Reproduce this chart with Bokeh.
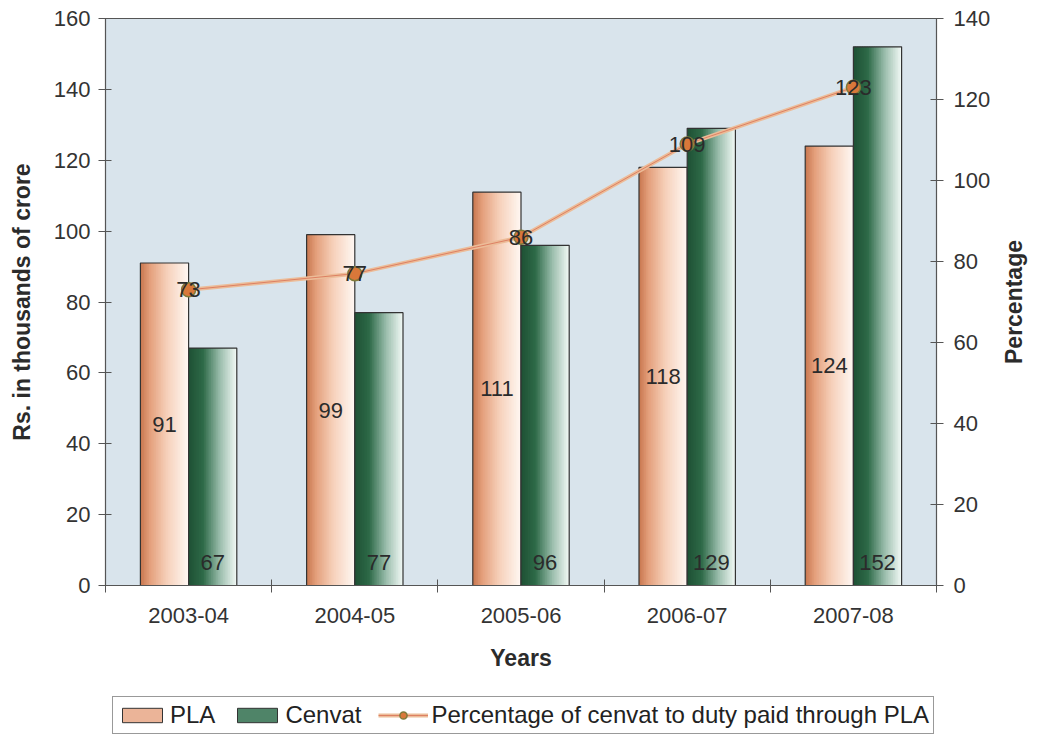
import math
import numpy as np
from bokeh.plotting import figure
from bokeh.layouts import column, row
from bokeh.models import (ColumnDataSource, Range1d, LinearAxis, FixedTicker,
                          Legend, LegendItem)
from bokeh.embed import file_html
from bokeh.resources import INLINE
from bokeh.core.properties import value

# ---------------- data ----------------
years = ["2003-04", "2004-05", "2005-06", "2006-07", "2007-08"]
pla = [91, 99, 111, 118, 124]
cenvat = [67, 77, 96, 129, 152]
pct = [73, 77, 86, 109, 123]
left_ticks = [0, 20, 40, 60, 80, 100, 120, 140, 160]
right_ticks = [0, 20, 40, 60, 80, 100, 120, 140]

FONT = "Liberation Sans"
BAR_W = 0.29
N_STRIPS = 28
NAN = float("nan")

PLA_STOPS = [(0.0, "#c8764e"), (0.2, "#e4a07c"), (0.55, "#f6d0ba"), (1.0, "#fff8f3")]
CEN_STOPS = [(0.0, "#1e5034"), (0.3, "#2e6a48"), (0.65, "#9abdac"), (1.0, "#f3f9f6")]
PLA_MID = "#ebb498"
CEN_MID = "#4f8468"
LINE_OUTER = "#ecbc98"
LINE_INNER = "#d4583f"
MK_FILL = "#d9783a"
MK_LINE = "#807a3a"


def hex2rgb(h):
    h = h.lstrip("#")
    return np.array([int(h[i:i + 2], 16) for i in (0, 2, 4)], dtype=float)


def interp(stops, t):
    for (t0, c0), (t1, c1) in zip(stops[:-1], stops[1:]):
        if t0 <= t <= t1:
            f = (t - t0) / (t1 - t0) if t1 > t0 else 0
            c = hex2rgb(c0) * (1 - f) + hex2rgb(c1) * f
            return "#%02x%02x%02x" % tuple(int(round(v)) for v in c)
    return stops[-1][1]


centers = [i + 0.5 for i in range(len(years))]

p = figure(frame_width=831, frame_height=567,
           x_range=Range1d(0, len(years)), y_range=Range1d(0, 160),
           output_backend="svg", toolbar_location=None,
           background_fill_color="#d9e4ec", border_fill_color="white",
           min_border_left=105, min_border_right=0, min_border_top=18,
           min_border_bottom=105, outline_line_color="#555555")
p.xgrid.visible = False
p.ygrid.visible = False
p.extra_y_ranges = {"pct": Range1d(0, 140)}


def bar_set(xs_left, vals, stops):
    L, R, B, T, C = [], [], [], [], []
    for x0, v in zip(xs_left, vals):
        for k in range(N_STRIPS):
            t = (k + 0.5) / N_STRIPS
            L.append(x0 + BAR_W * k / N_STRIPS)
            R.append(min(x0 + BAR_W * (k + 1) / N_STRIPS + 0.006, x0 + BAR_W))
            B.append(0)
            T.append(v)
            C.append(interp(stops, t))
    src = ColumnDataSource(dict(left=L, right=R, bottom=B, top=T, color=C))
    p.quad(left="left", right="right", bottom="bottom", top="top", source=src,
           fill_color="color", line_color=None)
    p.quad(left=xs_left, right=[x + BAR_W for x in xs_left], bottom=0, top=vals,
           fill_alpha=0, line_color="#333333", line_width=1.2)


bar_set([c - BAR_W for c in centers], pla, PLA_STOPS)
bar_set(centers, cenvat, CEN_STOPS)

# bar value labels
p.text(x=[c - BAR_W / 2 for c in centers], y=[v / 2 for v in pla], text=[str(v) for v in pla],
       text_font=value(FONT), text_font_size="22px", text_color="#2b2b2b",
       text_align="center", text_baseline="middle")
p.text(x=[c + BAR_W / 2 for c in centers], y=[0] * len(cenvat), text=[str(v) for v in cenvat],
       text_font=value(FONT), text_font_size="22px", text_color="#2b2b2b",
       text_align="center", text_baseline="middle", y_offset=-23)

# percentage line
p.line(centers, pct, y_range_name="pct", line_color=LINE_OUTER, line_width=4)
p.line(centers, pct, y_range_name="pct", line_color=LINE_INNER, line_width=1, line_alpha=0.6)
p.scatter(centers, pct, y_range_name="pct", size=14, marker="circle",
          fill_color=MK_FILL, line_color=MK_LINE, line_width=1.5)
p.text(x=centers, y=pct, text=[str(v) for v in pct], y_range_name="pct",
       text_font=value(FONT), text_font_size="22px", text_color="#2b2b2b",
       text_align="center", text_baseline="middle")

# ---------------- axes ----------------
xa = p.xaxis[0]
xa.ticker = FixedTicker(ticks=centers, minor_ticks=list(range(len(years) + 1)))
xa.major_label_overrides = {c: y for c, y in zip(centers, years)}
xa.major_tick_in = 0
xa.major_tick_out = 0
xa.minor_tick_in = 6
xa.minor_tick_out = 7
xa.axis_label = "Years"

ya = p.yaxis[0]
ya.ticker = FixedTicker(ticks=left_ticks)
ya.axis_label = "Rs. in thousands of crore"
ya.major_tick_in = 6
ya.major_tick_out = 7
ya.minor_tick_in = 0
ya.minor_tick_out = 0

ra = LinearAxis(y_range_name="pct", ticker=FixedTicker(ticks=right_ticks))
ra.major_tick_in = 6
ra.major_tick_out = 7
ra.minor_tick_in = 0
ra.minor_tick_out = 0
p.add_layout(ra, "right")

for ax in (xa, ya, ra):
    ax.axis_line_color = "#555555"
    ax.axis_line_width = 1.2
    ax.major_tick_line_color = "#555555"
    ax.minor_tick_line_color = "#555555"
    ax.major_label_text_font = FONT
    ax.major_label_text_font_size = "22px"
    ax.major_label_text_color = "#333333"
    ax.axis_label_text_font = FONT
    ax.axis_label_text_font_size = "23px"
    ax.axis_label_text_font_style = "bold"
    ax.axis_label_text_color = "#2b2b2b"

xa.major_label_standoff = 15
xa.axis_label_standoff = 19
ya.major_label_standoff = 8
ya.axis_label_standoff = 16
ra.major_label_standoff = 10

# ---------------- right-hand axis title (reads bottom to top) ----------------
pr = figure(width=40, height=690, x_range=Range1d(0, 1), y_range=Range1d(0, 1),
            output_backend="svg", toolbar_location=None, min_border=0,
            outline_line_color=None, x_axis_location=None, y_axis_location=None,
            background_fill_color="white", border_fill_color="white")
pr.grid.visible = False
pr.text(x=[0.5], y=[0.5], text=["Percentage"], angle=math.pi / 2,
        text_font=value(FONT), text_font_size="23px", text_font_style="bold",
        text_color="#2b2b2b", text_align="center", text_baseline="middle")

# ---------------- legend (separate strip below the chart) ----------------
lg = figure(width=1036, height=47, x_range=Range1d(0, 1), y_range=Range1d(0, 1),
            output_backend="svg", toolbar_location=None, min_border=0,
            outline_line_color=None, x_axis_location=None, y_axis_location=None,
            background_fill_color="white", border_fill_color="white")
lg.grid.visible = False
g_pla = lg.quad(left=[NAN], right=[NAN], bottom=[NAN], top=[NAN], fill_color=PLA_MID, line_color="#333333")
g_cen = lg.quad(left=[NAN], right=[NAN], bottom=[NAN], top=[NAN], fill_color=CEN_MID, line_color="#333333")
g_l1 = lg.line([NAN], [NAN], line_color=LINE_OUTER, line_width=4)
g_l2 = lg.line([NAN], [NAN], line_color=LINE_INNER, line_width=1, line_alpha=0.6)
g_mk = lg.scatter([NAN], [NAN], size=14, marker="circle", fill_color=MK_FILL, line_color=MK_LINE, line_width=1.5)

legend = Legend(items=[
    LegendItem(label="PLA", renderers=[g_pla]),
    LegendItem(label="Cenvat", renderers=[g_cen]),
    LegendItem(label="Percentage of cenvat to duty paid through PLA", renderers=[g_l1, g_l2, g_mk]),
], orientation="horizontal", location=(112, 3))
legend.label_text_font = FONT
legend.label_text_font_size = "24px"
legend.label_text_color = "#222222"
legend.glyph_width = 50
legend.glyph_height = 18
legend.label_standoff = 3
legend.spacing = 17
legend.padding = 4
legend.margin = 0
legend.border_line_color = "#333333"
legend.border_line_width = 1.5
legend.background_fill_color = "white"
legend.background_fill_alpha = 1.0
lg.add_layout(legend, "center")

layout = column(row(p, pr, spacing=0), lg, spacing=0)
open("out.html", "w").write(file_html(layout, INLINE))
